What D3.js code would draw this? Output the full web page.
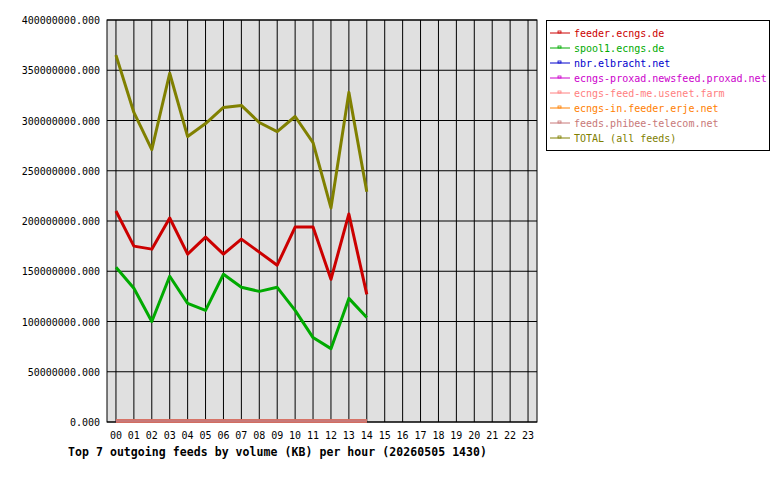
<!DOCTYPE html><html><head><meta charset="utf-8"><script src="https://d3js.org/d3.v7.min.js"></script>
<style>body{margin:0;background:#fff}text{font-family:"DejaVu Sans Mono",monospace}</style></head><body><svg width="780" height="480"></svg><script>
const hours=d3.range(24).map(h=>String(h).padStart(2,"0"));
const names=["feeder.ecngs.de","spool1.ecngs.de","nbr.elbracht.net","ecngs-proxad.newsfeed.proxad.net","ecngs-feed-me.usenet.farm","ecngs-in.feeder.erje.net","feeds.phibee-telecom.net","TOTAL (all feeds)"];
const colors=["#cc0000","#00aa00","#0000cc","#cc00cc","#ff8080","#ff8000","#c87878","#808000"];
const feeder=[210,175,172,203,167,184,167,182,169,156,194,194,142,207,127];
const spool1=[154,133,100,145,118,111,147,134,130,134,111,84,73,123,104];
const zeros=[0,0,0,0,0,0,0,0,0,0,0,0,0,0,0];
const total=[365,308,271,347,284,297,313,315,298,289,304,278,213,328,229];
const series=[feeder,spool1,zeros,zeros,zeros,zeros,zeros,total];
const yTicks=[0,50,100,150,200,250,300,350,400];
const svg=d3.select("svg");
const L=107,R=537,T=20,B=422;
const x=d3.scaleBand().domain(hours).range([L,R]);
const y=d3.scaleLinear().domain([0,400]).range([B,T]);
const cx=h=>x(h)+x.bandwidth()/2;
svg.append("rect").attr("x",L).attr("y",T).attr("width",R-L).attr("height",B-T).attr("fill","#e0e0e0").attr("stroke","#000");
yTicks.forEach(t=>{svg.append("line").attr("x1",L).attr("x2",R).attr("y1",y(t)).attr("y2",y(t)).attr("stroke","#000");
svg.append("text").attr("x",L-7).attr("y",y(t)+4).attr("text-anchor","end").attr("font-size",10).text((t*1e6).toFixed(3));});
hours.forEach(h=>{svg.append("line").attr("x1",cx(h)).attr("x2",cx(h)).attr("y1",T).attr("y2",B).attr("stroke","#000");
svg.append("text").attr("x",cx(h)).attr("y",B+17).attr("text-anchor","middle").attr("font-size",10).text(h);});
const line=d3.line().x((d,i)=>cx(hours[i])).y(d=>y(d)-(d===0?1:0));
[2,3,4,5,6,0,1,7].forEach(k=>{svg.append("path").attr("d",line(series[k])).attr("fill","none").attr("stroke",colors[k]).attr("stroke-width",3).attr("stroke-linejoin","round");});
svg.append("text").attr("x",68).attr("y",456).attr("font-size",11.5).attr("font-weight","bold").attr("textLength",419).text("Top 7 outgoing feeds by volume (KB) per hour (20260505 1430)");
svg.append("rect").attr("x",546.5).attr("y",20.5).attr("width",223).attr("height",130).attr("fill","#fff").attr("stroke","#000");
names.forEach((n,i)=>{const yy=33+i*15;
svg.append("line").attr("x1",550).attr("x2",570).attr("y1",yy).attr("y2",yy).attr("stroke",colors[i]);
svg.append("rect").attr("x",558).attr("y",yy-2).attr("width",3).attr("height",2).attr("fill","none").attr("stroke",colors[i]).attr("stroke-width",0.8);
svg.append("text").attr("x",574).attr("y",yy+4).attr("font-size",10).attr("fill",colors[i]).text(n);});
</script></body></html>
